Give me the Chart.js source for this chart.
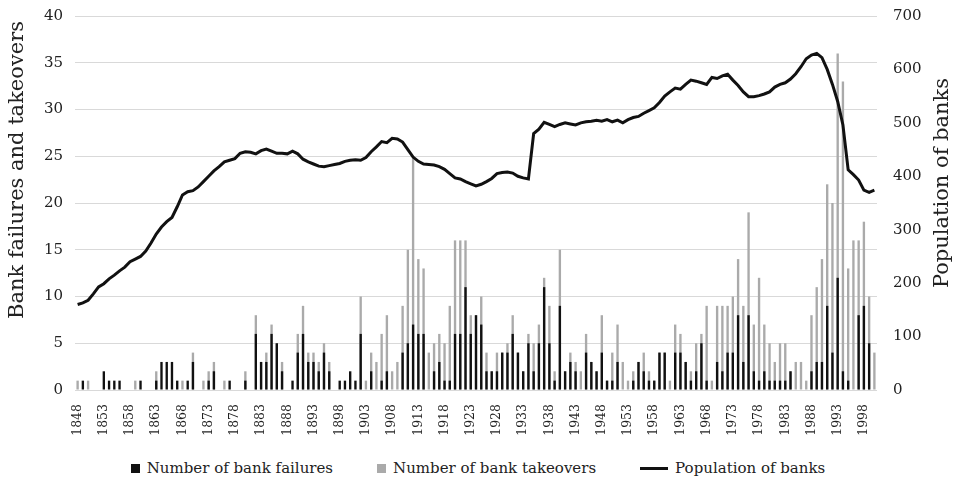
<!DOCTYPE html>
<html>
<head>
<meta charset="utf-8">
<script src="https://cdn.jsdelivr.net/npm/chart.js@4.4.1/dist/chart.umd.min.js"></script>
<style>
  body { margin: 0; background: #fff; }
  #wrap { position: relative; width: 956px; height: 485px; }
  #legend {
    position: absolute; top: 459px; left: 0; width: 956px;
    display: flex; justify-content: center; gap: 44px;
    font-family: 'DejaVu Serif', serif; font-size: 15px; color: #222;
  }
  .item { display: flex; align-items: center; }
  .box { width: 9px; height: 9px; margin-right: 7px; }
  .ln { width: 28px; height: 3px; background: #111; margin-right: 7px; }
</style>
</head>
<body>
<div id="wrap">
  <canvas id="chart" width="956" height="448"></canvas>
  <div id="legend">
    <div class="item"><span class="box" style="background:#111"></span>Number of bank failures</div>
    <div class="item"><span class="box" style="background:#aaa"></span>Number of bank takeovers</div>
    <div class="item"><span class="ln"></span>Population of banks</div>
  </div>
</div>
<script>
// one entry per year, 1848 to 2000
const years = Array.from({ length: 153 }, (_, i) => String(1848 + i));

const failures = [
  0, 1, 0, 0, 0, 2, 1, 1, 1, 0,   // 1848
  0, 0, 1, 0, 0, 1, 3, 3, 3, 1,   // 1858
  0, 1, 3, 0, 0, 1, 2, 0, 0, 1,   // 1868
  0, 0, 1, 0, 6, 3, 3, 6, 5, 2,   // 1878
  0, 1, 4, 6, 3, 3, 2, 4, 2, 0,   // 1888
  1, 1, 2, 1, 6, 0, 2, 0, 1, 2,   // 1898
  0, 0, 4, 5, 7, 6, 6, 0, 2, 3,   // 1908
  1, 1, 6, 6, 11, 6, 8, 7, 2, 2,  // 1918
  2, 4, 4, 6, 4, 2, 5, 2, 5, 11,  // 1928
  5, 1, 9, 2, 3, 2, 0, 4, 3, 2,   // 1938
  4, 1, 1, 3, 0, 0, 1, 3, 2, 1,   // 1948
  1, 4, 4, 0, 4, 4, 3, 1, 2, 5,   // 1958
  1, 0, 3, 2, 4, 4, 8, 3, 8, 2,   // 1968
  1, 2, 1, 1, 1, 1, 2, 0, 0, 0,   // 1978
  2, 3, 3, 9, 4, 12, 2, 1, 0, 8,  // 1988
  9, 5, 0                         // 1998
];

const takeovers = [
  1, 0, 1, 0, 0, 0, 0, 0, 0, 0,
  0, 1, 0, 0, 0, 2, 0, 0, 0, 0,
  1, 0, 4, 0, 1, 2, 3, 0, 1, 0,
  0, 0, 2, 0, 8, 3, 4, 7, 5, 3,
  0, 0, 6, 9, 4, 4, 3, 5, 3, 0,
  0, 0, 0, 0, 10, 1, 4, 3, 6, 8,
  2, 3, 9, 15, 25, 14, 13, 4, 5, 6,
  5, 9, 16, 16, 16, 8, 8, 10, 4, 2,
  4, 4, 5, 8, 4, 2, 6, 5, 7, 12,
  9, 2, 15, 2, 4, 3, 2, 6, 3, 2,
  8, 1, 4, 7, 3, 1, 2, 3, 4, 2,
  1, 4, 4, 1, 7, 6, 3, 2, 5, 6,
  9, 1, 9, 9, 9, 10, 14, 9, 19, 7,
  12, 7, 5, 3, 5, 5, 2, 3, 3, 1,
  8, 11, 14, 22, 20, 36, 33, 13, 16, 16,
  18, 10, 4
];

const population = [
  160, 163, 168, 180, 193, 199, 208, 215, 223, 230,
  240, 245, 250, 260, 275, 292, 305, 315, 323, 343,
  365, 371, 373, 380, 390, 400, 410, 418, 427, 430,
  433, 443, 446, 445, 442, 448, 451, 447, 443, 443,
  442, 447, 442, 432, 427, 423, 419, 418, 420, 422,
  424, 428, 430, 431, 430, 435, 446, 455, 465, 463,
  471, 470, 464, 450, 436, 428, 423, 422, 421, 418,
  413, 405, 397, 395, 390, 386, 382, 385, 390, 396,
  405, 407, 408, 406, 400, 397, 395, 480, 488, 501,
  497, 493, 497, 500, 498, 496, 500, 502, 503, 505,
  503, 506, 502, 505, 500, 506, 510, 512, 518, 523,
  528, 538, 550, 558, 565, 563, 572, 580, 578, 575,
  572, 585, 583, 588, 591, 580, 570, 558, 549, 549,
  551, 554, 558, 567, 572, 575, 582, 592, 605, 620,
  627, 630, 622, 600, 572, 540, 496, 412, 403, 393,
  374, 370, 374
];

const serif = "'DejaVu Serif', serif";

// axis titles drawn by hand so both read bottom to top
const axisTitles = {
  id: 'axisTitles',
  afterDraw(chart) {
    const { ctx } = chart;
    const draw = (text, x, y) => {
      ctx.save();
      ctx.font = '21px ' + serif;
      ctx.fillStyle = '#222';
      ctx.textAlign = 'center';
      ctx.textBaseline = 'middle';
      ctx.translate(x, y);
      ctx.rotate(-Math.PI / 2);
      ctx.fillText(text, 0, 0);
      ctx.restore();
    };
    draw('Bank failures and takeovers', 18, 170);
    draw('Population of banks', 943, 183);
  }
};

// tick marks kept invisible, they only space the labels off the plot
const hidden = 'rgba(0,0,0,0)';

new Chart(document.getElementById('chart'), {
  type: 'bar',
  data: {
    labels: years,
    datasets: [
      { label: 'Number of bank failures', data: failures, backgroundColor: '#111', grouped: false,
        categoryPercentage: 1, barPercentage: 0.45, yAxisID: 'y', order: 1 },
      { label: 'Number of bank takeovers', data: takeovers, backgroundColor: '#aaaaaa', grouped: false,
        categoryPercentage: 1, barPercentage: 0.45, yAxisID: 'y', order: 2 },
      { type: 'line', label: 'Population of banks', data: population, borderColor: '#111',
        borderWidth: 3, pointRadius: 0, tension: 0, yAxisID: 'y1', order: 0 },
    ],
  },
  options: {
    responsive: false,
    animation: false,
    devicePixelRatio: 1,
    layout: { padding: { top: 16, left: 0, right: 0, bottom: 0 } },
    plugins: { legend: { display: false }, tooltip: { enabled: false } },
    scales: {
      x: {
        grid: { display: false },
        border: { display: false },
        afterFit: (s) => { s.height = 58; },
        ticks: {
          autoSkip: false, minRotation: 90, maxRotation: 90, padding: 6,
          color: '#222', font: { family: serif, size: 12.5 },
          callback: (v, i) => ((i % 5 === 0) ? years[i] : ''),
        },
      },
      y: {
        position: 'left', min: 0, max: 40,
        afterFit: (s) => { s.width = 75; },
        border: { display: false },
        grid: { color: '#d9d9d9', lineWidth: 1, tickLength: 12, tickColor: hidden },
        ticks: { stepSize: 5, padding: 0, color: '#222', font: { family: serif, size: 15 } },
      },
      y1: {
        position: 'right', min: 0, max: 700,
        afterFit: (s) => { s.width = 79; },
        border: { display: false },
        grid: { color: hidden, tickLength: 16, tickColor: hidden, drawOnChartArea: false },
        ticks: { stepSize: 100, padding: 0, color: '#222', font: { family: serif, size: 15 } },
      },
    },
  },
  plugins: [axisTitles],
});
</script>
</body>
</html>
